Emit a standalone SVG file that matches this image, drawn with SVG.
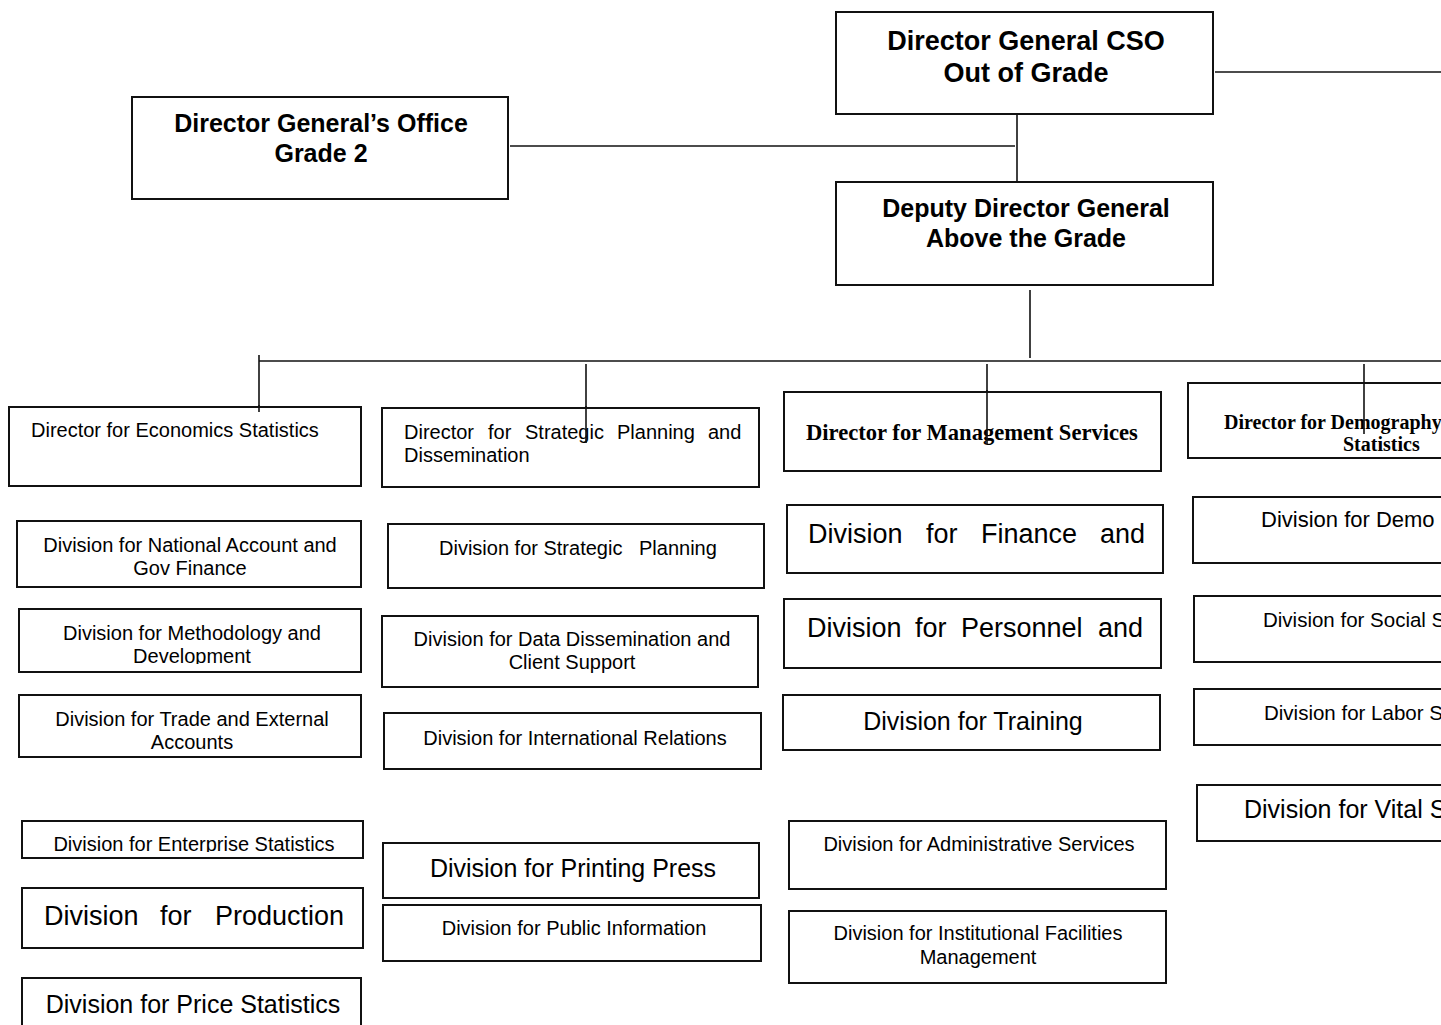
<svg xmlns="http://www.w3.org/2000/svg" width="1441" height="1025" viewBox="0 0 1441 1025">
  <style>
    .box { fill: #fff; stroke: #111; stroke-width: 2; }
    .ln { stroke: #111; stroke-width: 1.6; fill: none; }
    .hd { font-family: "Liberation Sans", Arial, sans-serif; font-weight: bold; fill: #000; text-anchor: middle; }
    .tb { font-family: "Liberation Serif", "Times New Roman", serif; font-weight: bold; fill: #000; }
    .t { font-family: "Liberation Sans", Arial, sans-serif; fill: #000; }
    .c { text-anchor: middle; }
    .s20 { font-size: 20px; }
    .s22 { font-size: 22px; }
    .s225 { font-size: 22.6px; }
    .s205 { font-size: 20.5px; }
    .s25 { font-size: 25px; }
    .s27 { font-size: 27px; }
  </style>
  <defs>
    <clipPath id="clipMethod"><rect x="19" y="609" width="342" height="55"/></clipPath>
    <clipPath id="clipEnterprise"><rect x="22" y="821" width="341" height="31"/></clipPath>
  </defs>
  <rect width="1441" height="1025" fill="#fff"/>

  <!-- connectors -->
  <g id="connectors">
    <line class="ln" x1="1215" y1="72" x2="1441" y2="72"/>
    <line class="ln" x1="1017" y1="114" x2="1017" y2="182"/>
    <line class="ln" x1="510" y1="146" x2="1015" y2="146"/>
    <line class="ln" x1="1030" y1="290" x2="1030" y2="358"/>
    <line class="ln" x1="259" y1="361" x2="1441" y2="361"/>
    <line class="ln" x1="259" y1="355" x2="259" y2="412"/>
    <line class="ln" x1="586" y1="364" x2="586" y2="443"/>
    <line class="ln" x1="987" y1="364" x2="987" y2="444"/>
  </g>

  <!-- top level -->
  <g id="dg-cso">
    <rect class="box" x="836" y="12" width="377" height="102"/>
    <text class="hd s27" x="1026" y="50">Director General CSO</text>
    <text class="hd s27" x="1026" y="82">Out of Grade</text>
  </g>
  <g id="dg-office">
    <rect class="box" x="132" y="97" width="376" height="102"/>
    <text class="hd s25" x="321" y="132">Director General’s Office</text>
    <text class="hd s25" x="321" y="162">Grade 2</text>
  </g>
  <g id="deputy-dg">
    <rect class="box" x="836" y="182" width="377" height="103"/>
    <text class="hd s25" x="1026" y="217">Deputy Director General</text>
    <text class="hd s25" x="1026" y="247">Above the Grade</text>
  </g>

  <!-- column 1: economics -->
  <g id="dir-economics">
    <rect class="box" x="9" y="407" width="352" height="79"/>
    <text class="t s20" x="31" y="437">Director for Economics Statistics</text>
  </g>
  <line class="ln" x1="259" y1="405" x2="259" y2="412"/>
  <g id="div-national-account">
    <rect class="box" x="17" y="521" width="344" height="66"/>
    <text class="t s20 c" x="190" y="552">Division for National Account and</text>
    <text class="t s20 c" x="190" y="575">Gov Finance</text>
  </g>
  <g id="div-methodology">
    <rect class="box" x="19" y="609" width="342" height="63"/>
    <g clip-path="url(#clipMethod)">
      <text class="t s20 c" x="192" y="640">Division for Methodology and</text>
      <text class="t s20 c" x="192" y="663">Development</text>
    </g>
  </g>
  <g id="div-trade">
    <rect class="box" x="19" y="695" width="342" height="62"/>
    <text class="t s20 c" x="192" y="726">Division for Trade and External</text>
    <text class="t s20 c" x="192" y="749">Accounts</text>
  </g>
  <g id="div-enterprise">
    <rect class="box" x="22" y="821" width="341" height="37"/>
    <g clip-path="url(#clipEnterprise)">
      <text class="t s20 c" x="194" y="851">Division for Enterprise Statistics</text>
    </g>
  </g>
  <g id="div-production">
    <rect class="box" x="22" y="888" width="341" height="60"/>
    <text class="t s27" y="925"><tspan x="44">Division</tspan><tspan x="160">for</tspan><tspan x="215">Production</tspan></text>
  </g>
  <g id="div-price">
    <rect class="box" x="22" y="978" width="339" height="70"/>
    <text class="t s25 c" x="193" y="1013">Division for Price Statistics</text>
  </g>

  <!-- column 2: strategic planning -->
  <g id="dir-strategic">
    <rect class="box" x="382" y="408" width="377" height="79"/>
    <text class="t s20" y="439"><tspan x="404">Director</tspan><tspan x="488">for</tspan><tspan x="525">Strategic</tspan><tspan x="617">Planning</tspan><tspan x="708">and</tspan></text>
    <text class="t s20" x="404" y="462">Dissemination</text>
  </g>
  <line class="ln" x1="586" y1="406" x2="586" y2="443"/>
  <g id="div-strategic-planning">
    <rect class="box" x="388" y="524" width="376" height="64"/>
    <text class="t s20" y="555"><tspan x="439">Division for Strategic</tspan><tspan x="639">Planning</tspan></text>
  </g>
  <g id="div-data-dissemination">
    <rect class="box" x="382" y="616" width="376" height="71"/>
    <text class="t s20 c" x="572" y="646">Division for Data Dissemination and</text>
    <text class="t s20 c" x="572" y="669">Client Support</text>
  </g>
  <g id="div-international">
    <rect class="box" x="384" y="713" width="377" height="56"/>
    <text class="t s20 c" x="575" y="745">Division for International Relations</text>
  </g>
  <g id="div-printing">
    <rect class="box" x="383" y="843" width="376" height="55"/>
    <text class="t s25 c" x="573" y="877">Division for Printing Press</text>
  </g>
  <g id="div-public-info">
    <rect class="box" x="383" y="905" width="378" height="56"/>
    <text class="t s20 c" x="574" y="935">Division for Public Information</text>
  </g>

  <!-- column 3: management services -->
  <g id="dir-management">
    <rect class="box" x="784" y="392" width="377" height="79"/>
    <text class="tb s225" x="806" y="440">Director for Management Services</text>
  </g>
  <line class="ln" x1="987" y1="390" x2="987" y2="444"/>
  <g id="div-finance">
    <rect class="box" x="787" y="505" width="376" height="68"/>
    <text class="t s27" y="543"><tspan x="808">Division</tspan><tspan x="926">for</tspan><tspan x="981">Finance</tspan><tspan x="1100">and</tspan></text>
  </g>
  <g id="div-personnel">
    <rect class="box" x="784" y="599" width="377" height="69"/>
    <text class="t s27" y="637"><tspan x="807">Division</tspan><tspan x="915">for</tspan><tspan x="961">Personnel</tspan><tspan x="1098">and</tspan></text>
  </g>
  <g id="div-training">
    <rect class="box" x="783" y="695" width="377" height="55"/>
    <text class="t s25 c" x="973" y="730">Division for Training</text>
  </g>
  <g id="div-admin">
    <rect class="box" x="789" y="821" width="377" height="68"/>
    <text class="t s20 c" x="979" y="851">Division for Administrative Services</text>
  </g>
  <g id="div-facilities">
    <rect class="box" x="789" y="911" width="377" height="72"/>
    <text class="t s20 c" x="978" y="940">Division for Institutional Facilities</text>
    <text class="t s20 c" x="978" y="964">Management</text>
  </g>

  <!-- column 4: demography (runs past the right edge of the sheet) -->
  <g id="dir-demography">
    <rect class="box" x="1188" y="383" width="320" height="75"/>
    <text class="tb s20" x="1224" y="429">Director for Demography</text>
    <text class="tb s20" x="1343" y="451">Statistics</text>
  </g>
  <line class="ln" x1="1364" y1="364" x2="1364" y2="434"/>
  <g id="div-demography">
    <rect class="box" x="1193" y="497" width="320" height="66"/>
    <text class="t s22" x="1261" y="527">Division for Demo</text>
  </g>
  <g id="div-social">
    <rect class="box" x="1194" y="596" width="320" height="66"/>
    <text class="t s205" x="1263" y="627">Division for Social S</text>
  </g>
  <g id="div-labor">
    <rect class="box" x="1194" y="689" width="320" height="56"/>
    <text class="t s205" x="1264" y="720">Division for Labor S</text>
  </g>
  <g id="div-vital">
    <rect class="box" x="1197" y="785" width="320" height="56"/>
    <text class="t s25" x="1244" y="818">Division for Vital S</text>
  </g>
</svg>
